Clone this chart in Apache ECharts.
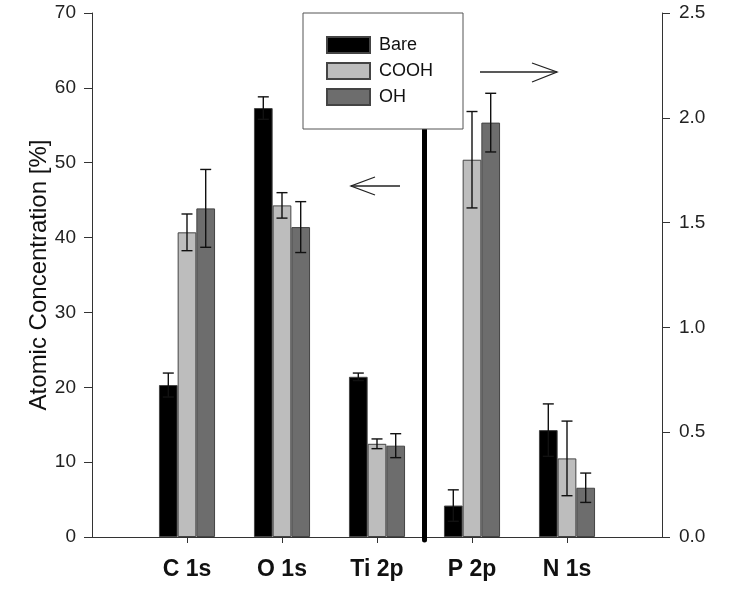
<!DOCTYPE html>
<html>
<head>
<meta charset="utf-8">
<script src="https://cdn.jsdelivr.net/npm/echarts@6/dist/echarts.min.js"></script>
<style>html,body{margin:0;padding:0;background:#fff;}#c{width:750px;height:601px;}</style>
</head>
<body>
<div id="c"></div>
<script>
// ---- data ----
const categories = ['C 1s', 'O 1s', 'Ti 2p', 'P 2p', 'N 1s'];
const leftCats = ['C 1s', 'O 1s', 'Ti 2p'];   // left axis (%)
const rightCats = ['P 2p', 'N 1s'];           // right axis
const seriesNames = ['Bare', 'COOH', 'OH'];

const bareLeft = [20.3, 57.3, 21.4];
const bareLeftErr = [1.6, 1.5, 0.5];
const coohLeft = [40.7, 44.3, 12.45];
const coohLeftErr = [2.45, 1.7, 0.65];
const ohLeft = [43.9, 41.4, 12.2];
const ohLeftErr = [5.2, 3.4, 1.6];

const bareRight = [0.15, 0.51];
const bareRightErr = [0.075, 0.125];
const coohRight = [1.80, 0.375];
const coohRightErr = [0.23, 0.178];
const ohRight = [1.977, 0.235];
const ohRightErr = [0.14, 0.07];

const leftTicks = [0, 10, 20, 30, 40, 50, 60, 70];
const rightTicks = [0.0, 0.5, 1.0, 1.5, 2.0, 2.5];

// ---- styling ----
const FONT = 'Liberation Sans, Arial, sans-serif';
const BAR_W = 18.7;
const fills = ['#000000', '#bdbdbd', '#6d6d6d'];
const axisData = [''].concat(categories).concat(['']);

const leftVals = [bareLeft, coohLeft, ohLeft];
const leftErrs = [bareLeftErr, coohLeftErr, ohLeftErr];
const rightVals = [bareRight, coohRight, ohRight];
const rightErrs = [bareRightErr, coohRightErr, ohRightErr];

function barSeries(name, g, cats, vals, axis) {
  return {
    name: name, type: 'bar', xAxisIndex: axis, yAxisIndex: axis,
    barWidth: BAR_W, barGap: '0%',
    itemStyle: { color: fills[g], borderColor: '#444', borderWidth: 1 },
    data: cats.map((c, i) => [c, vals[i]]),
    z: 2
  };
}
function errSeries(g, cats, vals, errs, axis) {
  return {
    type: 'custom', xAxisIndex: axis, yAxisIndex: axis, z: 5, silent: true,
    data: cats.map((c, i) => [c, vals[i], errs[i]]),
    renderItem: function (params, api) {
      const x0 = api.coord([api.value(0), api.value(1)]);
      const hi = api.coord([api.value(0), api.value(1) + api.value(2)]);
      const lo = api.coord([api.value(0), api.value(1) - api.value(2)]);
      const x = x0[0] + (g - 1) * BAR_W;
      const cap = 5.5;
      const st = { stroke: '#111', lineWidth: 1.4 };
      return { type: 'group', children: [
        { type: 'line', shape: { x1: x, y1: hi[1], x2: x, y2: lo[1] }, style: st },
        { type: 'line', shape: { x1: x - cap, y1: hi[1], x2: x + cap, y2: hi[1] }, style: st },
        { type: 'line', shape: { x1: x - cap, y1: lo[1], x2: x + cap, y2: lo[1] }, style: st }
      ]};
    }
  };
}

const series = [];
seriesNames.forEach((n, g) => series.push(barSeries(n, g, leftCats, leftVals[g], 0)));
seriesNames.forEach((n, g) => series.push(barSeries(n, g, rightCats, rightVals[g], 1)));
seriesNames.forEach((n, g) => series.push(errSeries(g, leftCats, leftVals[g], leftErrs[g], 0)));
seriesNames.forEach((n, g) => series.push(errSeries(g, rightCats, rightVals[g], rightErrs[g], 1)));

const axisLineStyle = { color: '#333', width: 1 };

const chart = echarts.init(document.getElementById('c'), null, { renderer: 'canvas' });
chart.setOption({
  animation: false,
  backgroundColor: '#fff',
  textStyle: { fontFamily: FONT },
  grid: { left: 92, right: 88, top: 13, bottom: 64 },
  legend: {
    data: seriesNames, orient: 'vertical', left: 303, top: 13,
    itemWidth: 43, itemHeight: 16, itemGap: 8, icon: 'rect',
    padding: [23, 30, 23, 23],
    borderColor: '#555', borderWidth: 1, backgroundColor: '#fff',
    textStyle: { fontSize: 18, color: '#111', fontFamily: FONT, padding: [0, 0, 0, 4] },
    selectedMode: false, z: 10
  },
  xAxis: [
    {
      type: 'category', data: axisData, boundaryGap: false, position: 'bottom',
      axisLine: { lineStyle: axisLineStyle },
      axisTick: { show: true, length: 6, lineStyle: axisLineStyle,
        interval: function (i, v) { return v !== ''; } },
      axisLabel: { fontSize: 23, fontWeight: 'bold', color: '#111', margin: 21, fontFamily: FONT,
        interval: 0 },
      splitLine: { show: false }
    },
    {
      type: 'category', data: axisData, boundaryGap: false, position: 'top',
      axisLine: { lineStyle: axisLineStyle },
      axisTick: { show: false }, axisLabel: { show: false }, splitLine: { show: false }
    }
  ],
  yAxis: [
    {
      type: 'value', min: leftTicks[0], max: leftTicks[leftTicks.length - 1],
      interval: leftTicks[1] - leftTicks[0], position: 'left',
      name: 'Atomic Concentration [%]', nameLocation: 'middle', nameGap: 41,
      nameMoveOverlap: false,
      nameTextStyle: { fontSize: 24, color: '#111', fontFamily: FONT },
      axisLine: { show: true, lineStyle: axisLineStyle },
      axisTick: { show: true, length: 8, lineStyle: axisLineStyle },
      axisLabel: { fontSize: 19, color: '#222', margin: 16, fontFamily: FONT },
      splitLine: { show: false }
    },
    {
      type: 'value', min: rightTicks[0], max: rightTicks[rightTicks.length - 1],
      interval: rightTicks[1] - rightTicks[0], position: 'right',
      axisLine: { show: true, lineStyle: axisLineStyle },
      axisTick: { show: true, length: 8, lineStyle: axisLineStyle },
      axisLabel: { fontSize: 19, color: '#222', margin: 17, fontFamily: FONT,
        formatter: v => v.toFixed(1) },
      splitLine: { show: false }
    }
  ],
  series: series
});

// divider between left-axis and right-axis groups, and direction arrows
const xa = chart.convertToPixel({ xAxisIndex: 0 }, 'Ti 2p');
const xb = chart.convertToPixel({ xAxisIndex: 0 }, 'P 2p');
const yTop = chart.convertToPixel({ yAxisIndex: 0 }, leftTicks[leftTicks.length - 1]);
const yBot = chart.convertToPixel({ yAxisIndex: 0 }, 0);
const xm = (xa + xb) / 2;
const arrowStyle = { stroke: '#222', lineWidth: 1.3, fill: null };
chart.setOption({
  graphic: [
    { type: 'line', z: 1, shape: { x1: xm, y1: yTop + 20, x2: xm, y2: yBot + 3 },
      style: { stroke: '#000', lineWidth: 5, lineCap: 'round' } },
    { type: 'polyline', z: 6, shape: { points: [[375, 177], [351, 186], [375, 195]] }, style: arrowStyle },
    { type: 'line', z: 6, shape: { x1: 351, y1: 186, x2: 400, y2: 186 }, style: arrowStyle },
    { type: 'polyline', z: 6, shape: { points: [[532, 63], [557, 72], [532, 82]] }, style: arrowStyle },
    { type: 'line', z: 6, shape: { x1: 480, y1: 72, x2: 557, y2: 72 }, style: arrowStyle }
  ]
});
</script>
</body>
</html>
